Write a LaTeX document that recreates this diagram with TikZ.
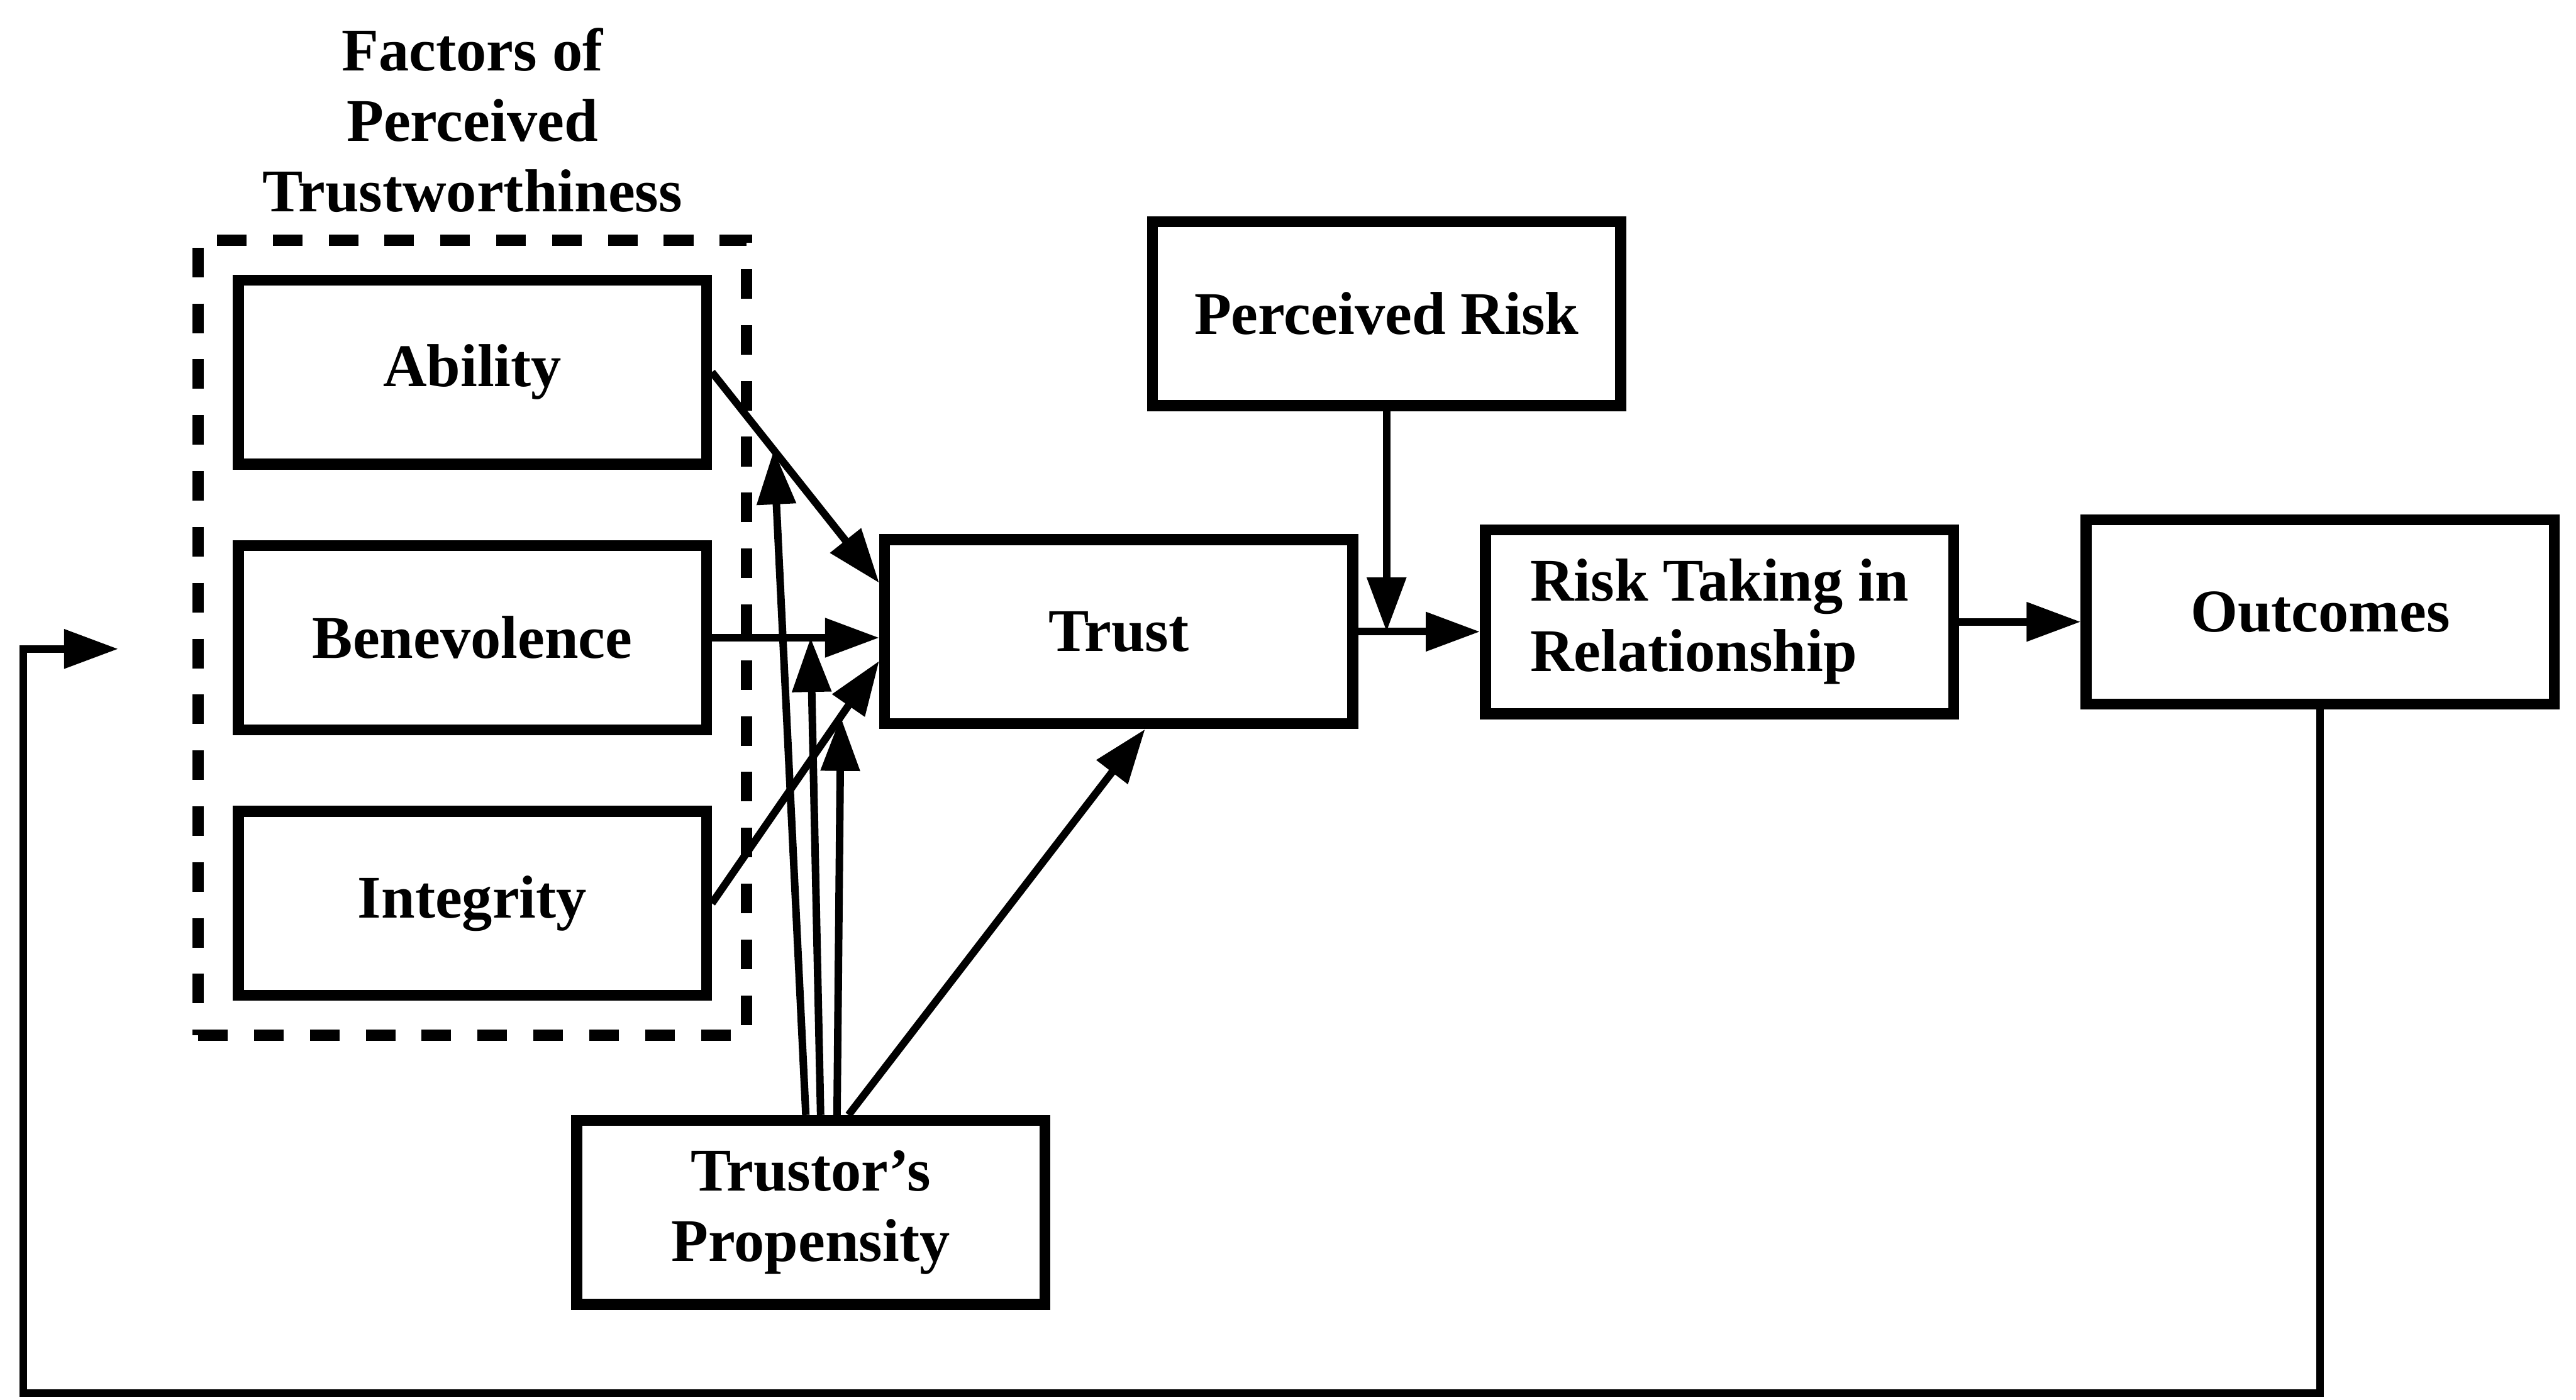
\documentclass[tikz,border=0pt]{standalone}
\usepackage{fontspec}
\setmainfont{Liberation Serif}
\usepackage{tikz}
\usetikzlibrary{
    arrows.meta,
    positioning,
    fit,
    calc
}

\begin{document}
\begin{tikzpicture}[
    x=0.1mm, y=-0.1mm,
    node distance=4.3mm,
    box/.style={rectangle, draw, line width=1.9pt, minimum width=28.5mm, minimum height=11.2mm, font=\bfseries\fontsize{10.5}{12.2}\selectfont, align=center},
    arrow/.style={-{Triangle[length=3.3mm, width=2.3mm]}, line width=1.3pt},
    group/.style={draw, line width=2pt, dash pattern=on 1.8mm off 1.6mm, inner sep=2.1mm},
    heading/.style={font=\bfseries\fontsize{10.5}{12.2}\selectfont, align=center}
]
\useasboundingbox (0,0) rectangle (1568,852);

% Factors of perceived trustworthiness (left)
\node[box] (ability) at (287.5,226.5) {Ability};
\node[box, below=of ability] (benevolence) {Benevolence};
\node[box, below=of benevolence] (integrity) {Integrity};
\node[group, fit=(ability)(integrity)] (factors) {};
\node[heading, above=0.1mm of factors] (factors-title) {Factors of\\Perceived\\Trustworthiness};

% Main chain
\node[box] (trust) at (681,384.5) {Trust};
\node[box] (risk) at (844,191) {Perceived Risk};
\node[box, align=left, right=7.4mm of trust, yshift=0.6mm] (taking) {Risk Taking in\\Relationship};
\node[box, right=7.4mm of taking, yshift=0.6mm] (outcomes) {Outcomes};
\node[box] (propensity) at (493.5,738) {Trustor's\\Propensity};

% Factors into trust
\coordinate (trust-a) at ($(trust.north west)!0.25!(trust.south west)$);
\coordinate (trust-c) at ($(trust.north west)!0.65!(trust.south west)$);
\draw[arrow] (ability.east) -- (trust-a);
\draw[arrow] (benevolence.east) -- (benevolence.east -| trust.west);
\draw[arrow] (integrity.east) -- (trust-c);

% Propensity moderates each link
\path (ability.east) -- (trust-a) coordinate[pos=0.37] (mod-a);
\path (benevolence.east) -- (benevolence.east -| trust.west) coordinate[pos=0.59] (mod-b);
\path (integrity.east) -- (trust-c) coordinate[pos=0.77] (mod-c);
\draw[arrow] ($(propensity.north)+(-3,0)$) -- (mod-a);
\draw[arrow] ($(propensity.north)+(6,0)$) -- (mod-b);
\draw[arrow] ($(propensity.north)+(16,0)$) -- (mod-c);
\draw[arrow] ($(propensity.north)+(23,0)$) -- ($(trust.south)+(16,0)$);

% Risk and outcomes
\draw[arrow] (risk.south) -- (risk.south |- trust.east);
\draw[arrow] (trust.east) -- (trust.east -| taking.west);
\draw[arrow] (taking.east) -- (taking.east -| outcomes.west);

% Feedback loop
\coordinate (fb-low) at (14,848);
\coordinate (fb-end) at (72,395);
\draw[arrow] (outcomes.south) |- (fb-low) |- (fb-end);

\end{tikzpicture}
\end{document}
